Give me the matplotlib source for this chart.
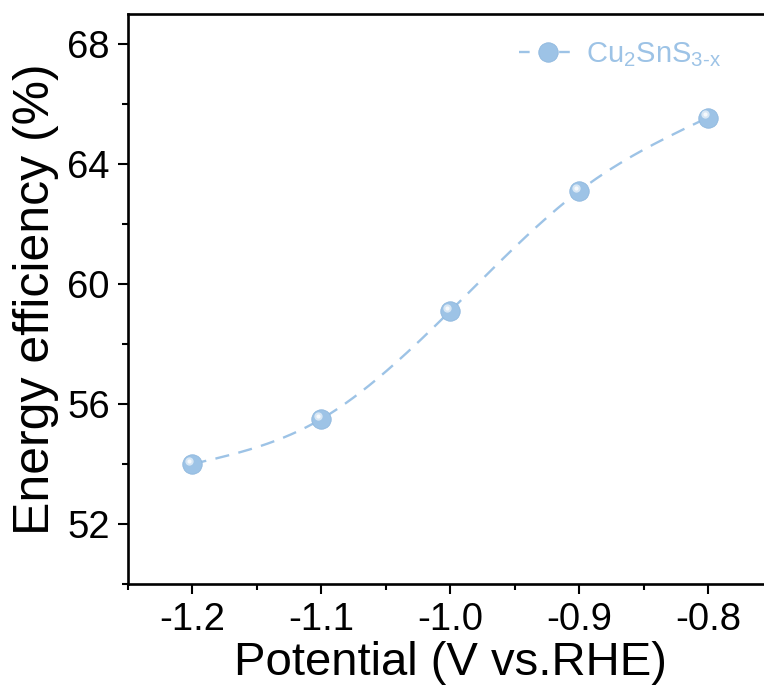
import numpy as np
import matplotlib
matplotlib.use("Agg")
import matplotlib.pyplot as plt
from matplotlib.ticker import MultipleLocator
from matplotlib.transforms import offset_copy

plt.rcParams['font.family'] = ['Liberation Sans', 'DejaVu Sans']
plt.rcParams['mathtext.fontset'] = 'custom'
plt.rcParams['mathtext.rm'] = 'Liberation Sans'

# Data
potential = [-1.2, -1.1, -1.0, -0.9, -0.8]
efficiency = [54.0, 55.5, 59.1, 63.1, 65.55]
label = r'$\mathregular{Cu_2SnS_{3\text{-}x}}$'

color = '#9dc3e6'


def natural_spline(x, y, n=200):
    # smooth connecting curve through the points (like Origin's spline line)
    x = np.asarray(x, float)
    y = np.asarray(y, float)
    h = np.diff(x)
    m = len(x)
    A = np.zeros((m, m))
    b = np.zeros(m)
    A[0, 0] = A[-1, -1] = 1
    for i in range(1, m - 1):
        A[i, i - 1] = h[i - 1]
        A[i, i] = 2 * (h[i - 1] + h[i])
        A[i, i + 1] = h[i]
        b[i] = 6 * ((y[i + 1] - y[i]) / h[i] - (y[i] - y[i - 1]) / h[i - 1])
    M = np.linalg.solve(A, b)
    xs = np.linspace(x[0], x[-1], n)
    idx = np.clip(np.searchsorted(x, xs) - 1, 0, m - 2)
    x0, x1 = x[idx], x[idx + 1]
    hh = x1 - x0
    ys = (M[idx] * (x1 - xs) ** 3 / (6 * hh) + M[idx + 1] * (xs - x0) ** 3 / (6 * hh)
          + (y[idx] / hh - M[idx] * hh / 6) * (x1 - xs)
          + (y[idx + 1] / hh - M[idx + 1] * hh / 6) * (xs - x0))
    return xs, ys


fig = plt.figure(figsize=(7.64, 6.95), dpi=100)
ax = fig.add_axes([128 / 764, 111 / 695, 644.5 / 764, 570 / 695])

xs, ys = natural_spline(potential, efficiency)
ax.plot(xs, ys, color=color, lw=1.7, dashes=(6, 4), zorder=2)
ax.plot(potential, efficiency, 'o', color=color, ms=14, mec='#8fb8de', mew=0.6, zorder=3)
# little highlight to imitate the shaded sphere marker
hl = offset_copy(ax.transData, fig=fig, x=-2.5, y=2.5, units='points')
ax.plot(potential, efficiency, 'o', color='white', alpha=0.6, ms=6, mew=0,
        transform=hl, zorder=4)
ax.plot(potential, efficiency, 'o', color='white', alpha=0.8, ms=3, mew=0,
        transform=hl, zorder=5)

# legend handle: dashed line with the marker
ax.plot([], [], color=color, lw=1.7, dashes=(4.5, 4), marker='o', ms=14,
        mfc=color, mec='#8fb8de', mew=0.6, label=label)
leg = ax.legend(loc='upper left', bbox_to_anchor=((519 - 128) / 644.5, (584 - 40) / 570),
                frameon=False, fontsize=21, handlelength=2.0, handletextpad=0.3,
                borderpad=0, borderaxespad=0)
for t in leg.get_texts():
    t.set_color(color)

ax.set_xlim(-1.25, -0.75)
ax.set_ylim(50, 69)
ax.xaxis.set_major_locator(MultipleLocator(0.1))
ax.xaxis.set_minor_locator(MultipleLocator(0.05))
ax.yaxis.set_major_locator(MultipleLocator(4))
ax.yaxis.set_minor_locator(MultipleLocator(2))
ax.xaxis.set_major_formatter(matplotlib.ticker.FormatStrFormatter('%.1f'))

for s in ['left', 'top', 'bottom']:
    ax.spines[s].set_linewidth(1.9)
ax.spines['right'].set_visible(False)
ax.tick_params(which='major', direction='out', length=7, width=1.5, labelsize=27.5, pad=6)
ax.tick_params(which='minor', direction='out', length=4, width=1.5)
ax.tick_params(top=False, right=False)

ax.set_xlabel('Potential (V vs.RHE)', fontsize=34, labelpad=2)
ax.set_ylabel('Energy efficiency (%)', fontsize=36, labelpad=6)

fig.savefig('out.png', dpi=100)
